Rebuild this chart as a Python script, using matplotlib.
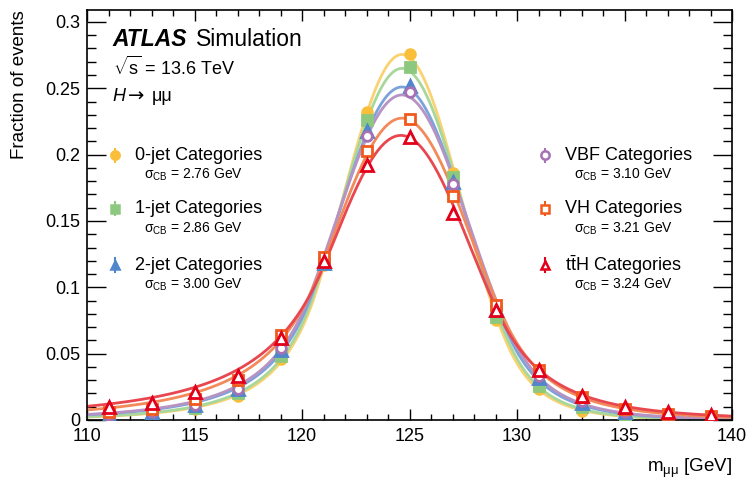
import numpy as np
import matplotlib
matplotlib.use("Agg")
import matplotlib.pyplot as plt

plt.rcParams['font.family'] = ['Liberation Sans', 'DejaVu Sans']
plt.rcParams['mathtext.fontset'] = 'custom'
plt.rcParams['mathtext.rm'] = 'Liberation Sans'
plt.rcParams['mathtext.it'] = 'Liberation Sans:italic'
plt.rcParams['mathtext.bf'] = 'Liberation Sans:bold'

# bin centres of the simulated mass points
mass = [111, 113, 115, 117, 119, 121, 123, 125, 127, 129, 131, 133, 135, 137, 139]

frac_0jet = [0.003, 0.005, 0.008, 0.018, 0.046, 0.117, 0.232, 0.276, 0.186, 0.075, 0.023, 0.0065, 0.003, 0.0015, 0.001]
frac_1jet = [0.0035, 0.0055, 0.009, 0.020, 0.048, 0.118, 0.226, 0.266, 0.183, 0.078, 0.026, 0.010, 0.004, 0.002, 0.0012]
frac_2jet = [0.004, 0.006, 0.011, 0.023, 0.053, 0.118, 0.218, 0.252, 0.179, 0.083, 0.032, 0.013, 0.006, 0.003, 0.0018]
frac_vbf = [0.004, 0.006, 0.011, 0.023, 0.054, 0.119, 0.214, 0.247, 0.178, 0.085, 0.033, 0.014, 0.006, 0.003, 0.002]
frac_vh = [0.006, 0.0085, 0.016, 0.030, 0.064, 0.123, 0.203, 0.227, 0.169, 0.087, 0.038, 0.017, 0.008, 0.0045, 0.003]
frac_tth = [0.0095, 0.013, 0.021, 0.033, 0.062, 0.120, 0.192, 0.213, 0.156, 0.083, 0.038, 0.018, 0.0095, 0.0058, 0.004]

labels = ['0-jet Categories', '1-jet Categories', '2-jet Categories',
          'VBF Categories', 'VH Categories', r'$\mathrm{t\bar{t}H}$ Categories']
sigma_cb = [2.76, 2.86, 3.00, 3.10, 3.21, 3.24]

# double sided crystal ball fit parameters (peak height, mean, tails)
fit_peak = [0.2755, 0.265, 0.251, 0.245, 0.2275, 0.2145]
fit_mean = [124.65, 124.65, 124.65, 124.65, 124.65, 124.6]
alpha_lo = [1.45, 1.45, 1.4, 1.4, 1.2, 1.1]
n_lo = [5, 5, 4, 4, 3.5, 3]
alpha_hi = [1.8, 1.8, 1.7, 1.7, 1.5, 1.4]
n_hi = [10, 10, 8, 8, 6, 5]

point_colors = ['#f9bf3b', '#8cc97f', '#4f86cc', '#a572b3', '#f05a1c', '#e2001a']
line_colors = ['#f9d372', '#a8d79c', '#7ba3da', '#b793c4', '#f28a5a', '#e8474f']
markers = ['o', 's', '^', 'o', 's', '^']
filled = [True, True, True, False, False, False]
frac_all = [frac_0jet, frac_1jet, frac_2jet, frac_vbf, frac_vh, frac_tth]


def dscb(x, mu, sig, al, nl, ah, nh):
    t = (x - mu) / sig
    out = np.exp(-0.5 * t**2)
    lo = t < -al
    hi = t > ah
    out[lo] = np.exp(-0.5 * al**2) * (al / nl * (nl / al - al - t[lo]))**(-nl)
    out[hi] = np.exp(-0.5 * ah**2) * (ah / nh * (nh / ah - ah + t[hi]))**(-nh)
    return out


fig = plt.figure(figsize=(7.51, 4.86), dpi=100)
ax = fig.add_axes([87/751, 1-420/486, 645/751, 410/486])

xx = np.linspace(110, 140, 600)
for i in range(6):
    yy = fit_peak[i] * dscb(xx, fit_mean[i], sigma_cb[i], alpha_lo[i], n_lo[i], alpha_hi[i], n_hi[i])
    ax.plot(xx, yy, color=line_colors[i], lw=2, zorder=2)

for i in range(6):
    fc = point_colors[i] if filled[i] else 'white'
    ax.plot(mass, frac_all[i], ls='none', marker=markers[i], ms=7 if markers[i] != '^' else 8,
            mfc=fc, mec=point_colors[i], mew=2, zorder=3)

ax.set_xlim(110, 140)
ax.set_ylim(0, 0.309)
ax.set_xticks(np.arange(110, 141, 5))
ax.set_xticks(np.arange(110, 141, 1), minor=True)
ax.set_yticks([0, 0.05, 0.1, 0.15, 0.2, 0.25, 0.3])
ax.set_yticklabels(['0', '0.05', '0.1', '0.15', '0.2', '0.25', '0.3'])
ax.set_yticks(np.arange(0, 0.305, 0.01), minor=True)
ax.tick_params(which='both', direction='in', top=True, right=True, labelsize=13, width=1)
ax.tick_params(axis='x', which='major', length=8, pad=6)
ax.tick_params(axis='x', which='minor', length=4)
ax.tick_params(axis='y', which='major', length=13.5, pad=5)
ax.tick_params(axis='y', which='minor', length=6.5)
for s in ax.spines.values():
    s.set_linewidth(1.2)

fig.text(20/751, 1-10/486, 'Fraction of events', rotation=90, ha='center', va='top', fontsize=13.5)
fig.text(732/751, 1-468/486, r'm$_{\mathrm{\mu\mu}}$ [GeV]', ha='right', va='center', fontsize=13.5)

ax.text(0.040, 0.927, 'ATLAS', transform=ax.transAxes, fontsize=16.5, fontweight='bold',
        fontstyle='italic', va='center', ha='left')
ax.text(0.169, 0.927, 'Simulation', transform=ax.transAxes, fontsize=16.5, va='center', ha='left')
ax.text(0.040, 0.859, r'$\sqrt{\mathrm{s}}$ = 13.6 TeV', transform=ax.transAxes, fontsize=13,
        va='center', ha='left')
ax.text(0.040, 0.788, 'H', transform=ax.transAxes, fontsize=13, fontstyle='italic',
        va='center', ha='left')
ax.text(0.064, 0.790, '→', transform=ax.transAxes, fontsize=14, family='DejaVu Sans',
        va='center', ha='left')
ax.text(0.101, 0.788, 'μμ', transform=ax.transAxes, fontsize=13, va='center', ha='left')

# legend, drawn by hand in two columns
leg_x = [0.0434, 0.0434, 0.0434, 0.710, 0.710, 0.710]
leg_y = [0.646, 0.515, 0.378, 0.646, 0.515, 0.378]
for i in range(6):
    fc = point_colors[i] if filled[i] else 'white'
    ax.plot([leg_x[i], leg_x[i]], [leg_y[i] - 0.016, leg_y[i] + 0.016], transform=ax.transAxes,
            color=point_colors[i], lw=1.5, clip_on=False)
    ax.plot([leg_x[i]], [leg_y[i]], transform=ax.transAxes, ls='none', marker=markers[i], ms=6,
            mfc=fc, mec=point_colors[i], mew=1.8, clip_on=False)
    ax.text(leg_x[i] + 0.031, leg_y[i], labels[i], transform=ax.transAxes, fontsize=13,
            va='center', ha='left')
    ax.text(leg_x[i] + 0.045, leg_y[i] - 0.048, r'σ$_{\mathrm{CB}}$ = %.2f GeV' % sigma_cb[i],
            transform=ax.transAxes, fontsize=10, va='center', ha='left')

fig.savefig('out.png', dpi=100)
